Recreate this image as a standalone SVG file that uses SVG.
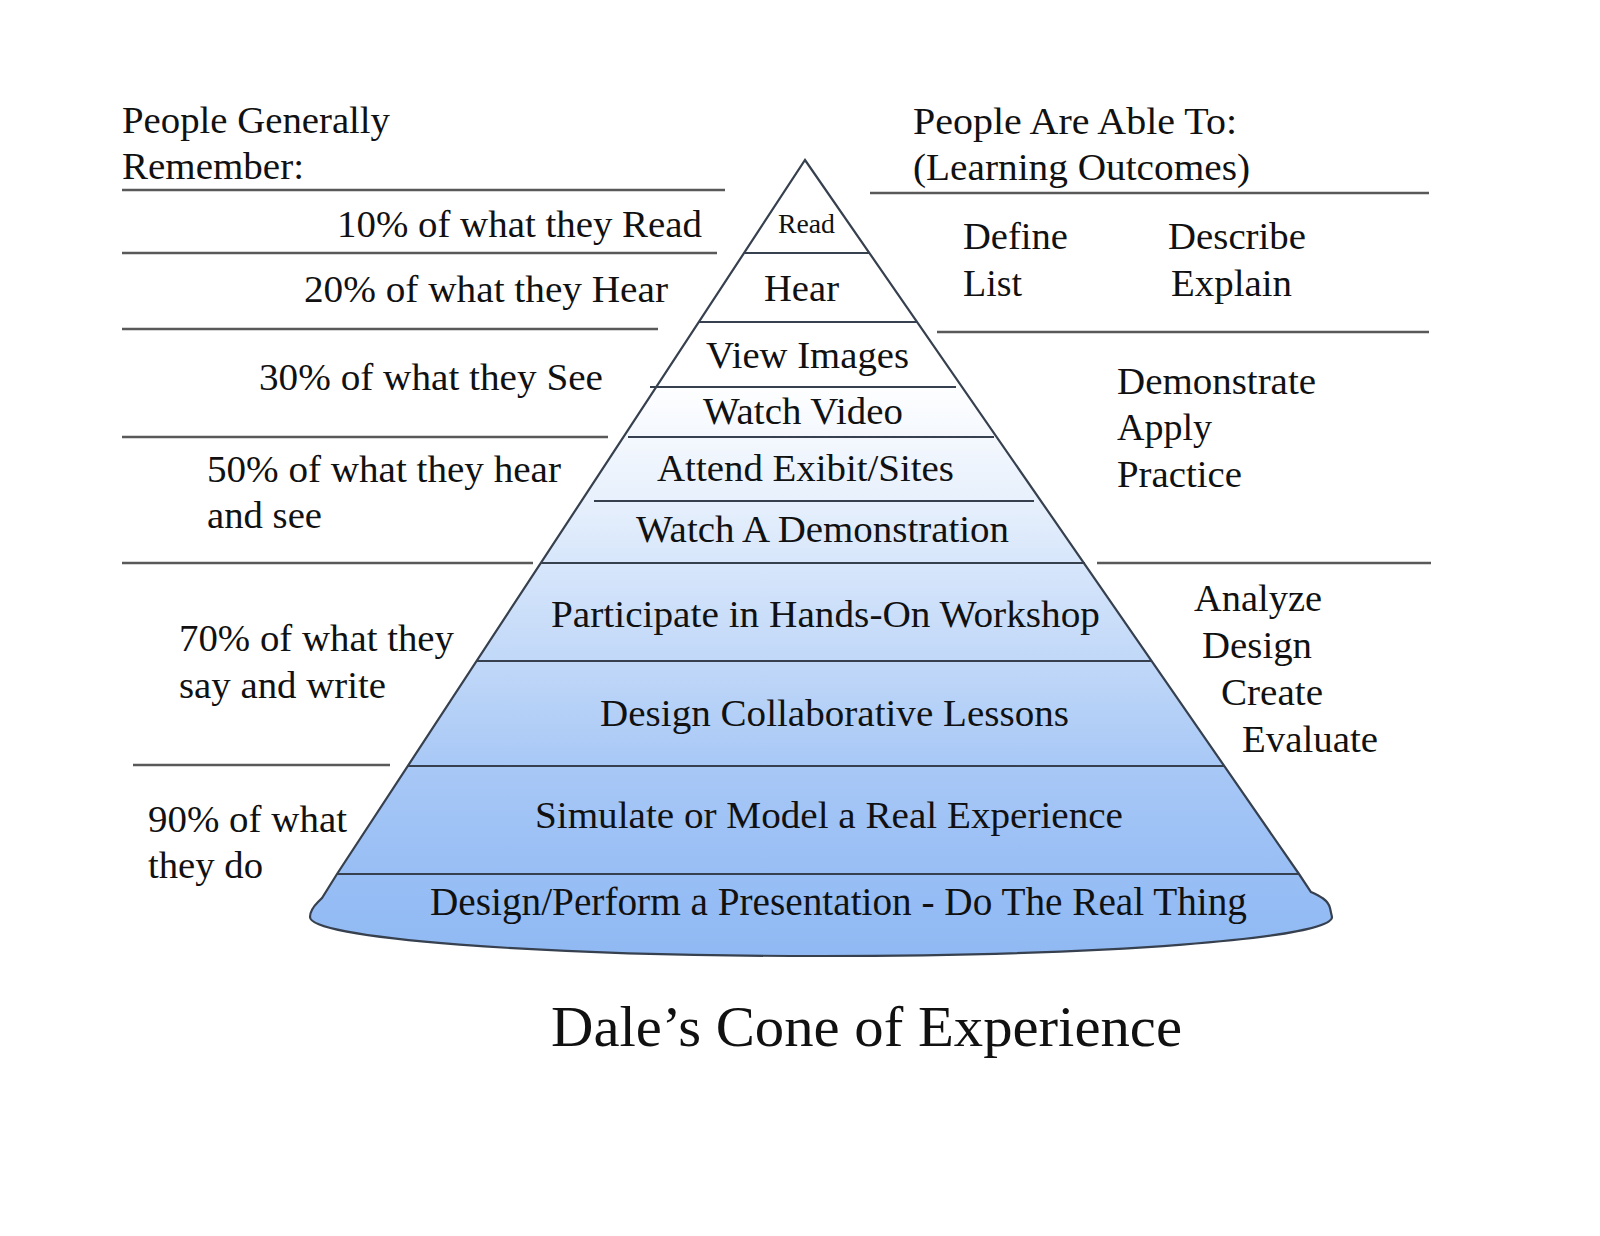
<svg xmlns="http://www.w3.org/2000/svg" width="1600" height="1236" viewBox="0 0 1600 1236">
<defs>
<linearGradient id="cone" gradientUnits="userSpaceOnUse" x1="0" y1="160" x2="0" y2="956">
<stop offset="0" stop-color="#ffffff"/>
<stop offset="0.276" stop-color="#ffffff"/>
<stop offset="0.348" stop-color="#f4f8fe"/>
<stop offset="0.428" stop-color="#e7f0fc"/>
<stop offset="0.506" stop-color="#d7e6fb"/>
<stop offset="0.629" stop-color="#c1d8f8"/>
<stop offset="0.761" stop-color="#a8c8f6"/>
<stop offset="0.897" stop-color="#98bef5"/>
<stop offset="1" stop-color="#90b9f3"/>
</linearGradient>
<style>
text{font-family:"Liberation Serif","Times New Roman",serif;fill:#111;font-size:38px}
.rule{stroke:#595959;stroke-width:2.5;fill:none}
.band{stroke:#36404e;stroke-width:2.2;fill:none}
.small{font-size:27px}
.title{font-size:56px}
.cond{font-size:41px}
</style>
</defs>
<rect width="1600" height="1236" fill="#ffffff"/>

<g id="cone-shape">
<path d="M805 160 L1299 874 L1311 892 C1320 896 1328 900 1330 908 L1332 917 A511 39 0 0 1 310 917 C310 911 314 906 318 902 C320 900 321 899 322 898 L337 874 Z" fill="url(#cone)" stroke="#36404e" stroke-width="2.2"/>
</g>

<g id="connectors">
<g id="band-lines">
<line class="band" x1="744" y1="253" x2="869" y2="253"/>
<line class="band" x1="699" y1="322" x2="917" y2="322"/>
<line class="band" x1="650" y1="387" x2="956" y2="387"/>
<line class="band" x1="628" y1="437" x2="994" y2="437"/>
<line class="band" x1="594" y1="501" x2="1034" y2="501"/>
<line class="band" x1="541" y1="563" x2="1085" y2="563"/>
<line class="band" x1="477" y1="661" x2="1152" y2="661"/>
<line class="band" x1="408" y1="766" x2="1224" y2="766"/>
<line class="band" x1="337" y1="874" x2="1299" y2="874"/>
</g>
<g id="left-rules">
<line class="rule" x1="122" y1="190" x2="725" y2="190"/>
<line class="rule" x1="122" y1="253" x2="717" y2="253"/>
<line class="rule" x1="122" y1="329" x2="658" y2="329"/>
<line class="rule" x1="122" y1="437" x2="608" y2="437"/>
<line class="rule" x1="122" y1="563" x2="533" y2="563"/>
<line class="rule" x1="133" y1="765" x2="390" y2="765"/>
</g>
<g id="right-rules">
<line class="rule" x1="870" y1="193" x2="1429" y2="193"/>
<line class="rule" x1="937" y1="332" x2="1429" y2="332"/>
<line class="rule" x1="1097" y1="563" x2="1431" y2="563"/>
</g>
</g>

<g id="left-header">
<text x="122" y="133" textLength="268" lengthAdjust="spacingAndGlyphs">People Generally</text>
<text x="122" y="179" textLength="182" lengthAdjust="spacingAndGlyphs">Remember:</text>
</g>
<g id="remember-10"><text x="337" y="237" textLength="365" lengthAdjust="spacingAndGlyphs">10% of what they Read</text></g>
<g id="remember-20"><text x="304" y="302" textLength="364" lengthAdjust="spacingAndGlyphs">20% of what they Hear</text></g>
<g id="remember-30"><text x="259" y="390" textLength="344" lengthAdjust="spacingAndGlyphs">30% of what they See</text></g>
<g id="remember-50">
<text x="207" y="482" textLength="354" lengthAdjust="spacingAndGlyphs">50% of what they hear</text>
<text x="207" y="528" textLength="115" lengthAdjust="spacingAndGlyphs">and see</text>
</g>
<g id="remember-70">
<text x="179" y="651" textLength="275" lengthAdjust="spacingAndGlyphs">70% of what they</text>
<text x="179" y="698" textLength="207" lengthAdjust="spacingAndGlyphs">say and write</text>
</g>
<g id="remember-90">
<text x="148" y="832" textLength="199" lengthAdjust="spacingAndGlyphs">90% of what</text>
<text x="148" y="878" textLength="115" lengthAdjust="spacingAndGlyphs">they do</text>
</g>

<g id="right-header">
<text x="913" y="134" textLength="324" lengthAdjust="spacingAndGlyphs">People Are Able To:</text>
<text x="913" y="180" textLength="337" lengthAdjust="spacingAndGlyphs">(Learning Outcomes)</text>
</g>
<g id="outcome-1">
<text x="963" y="249" textLength="105" lengthAdjust="spacingAndGlyphs">Define</text>
<text x="963" y="296" textLength="59" lengthAdjust="spacingAndGlyphs">List</text>
<text x="1168" y="249" textLength="138" lengthAdjust="spacingAndGlyphs">Describe</text>
<text x="1171" y="296" textLength="121" lengthAdjust="spacingAndGlyphs">Explain</text>
</g>
<g id="outcome-2">
<text x="1117" y="394" textLength="199" lengthAdjust="spacingAndGlyphs">Demonstrate</text>
<text x="1117" y="440" textLength="95" lengthAdjust="spacingAndGlyphs">Apply</text>
<text x="1117" y="487" textLength="125" lengthAdjust="spacingAndGlyphs">Practice</text>
</g>
<g id="outcome-3">
<text x="1194" y="611" textLength="128" lengthAdjust="spacingAndGlyphs">Analyze</text>
<text x="1202" y="658" textLength="110" lengthAdjust="spacingAndGlyphs">Design</text>
<text x="1221" y="705" textLength="102" lengthAdjust="spacingAndGlyphs">Create</text>
<text x="1242" y="752" textLength="136" lengthAdjust="spacingAndGlyphs">Evaluate</text>
</g>

<g id="level-read"><text class="small" x="778" y="233" textLength="57" lengthAdjust="spacingAndGlyphs">Read</text></g>
<g id="level-hear"><text x="764" y="301" textLength="75" lengthAdjust="spacingAndGlyphs">Hear</text></g>
<g id="level-view-images"><text x="706" y="368" textLength="203" lengthAdjust="spacingAndGlyphs">View Images</text></g>
<g id="level-watch-video"><text x="703" y="424" textLength="200" lengthAdjust="spacingAndGlyphs">Watch Video</text></g>
<g id="level-attend"><text x="657" y="481" textLength="297" lengthAdjust="spacingAndGlyphs">Attend Exibit/Sites</text></g>
<g id="level-watch-demo"><text x="636" y="542" textLength="373" lengthAdjust="spacingAndGlyphs">Watch A Demonstration</text></g>
<g id="level-workshop"><text x="551" y="627" textLength="549" lengthAdjust="spacingAndGlyphs">Participate in Hands-On Workshop</text></g>
<g id="level-collab"><text x="600" y="726" textLength="469" lengthAdjust="spacingAndGlyphs">Design Collaborative Lessons</text></g>
<g id="level-simulate"><text x="535" y="828" textLength="588" lengthAdjust="spacingAndGlyphs">Simulate or Model a Real Experience</text></g>
<g id="level-real"><text class="cond" x="430" y="915" textLength="817" lengthAdjust="spacingAndGlyphs">Design/Perform a Presentation - Do The Real Thing</text></g>

<g id="title"><text class="title" x="551" y="1046" textLength="631" lengthAdjust="spacingAndGlyphs">Dale’s Cone of Experience</text></g>
</svg>
